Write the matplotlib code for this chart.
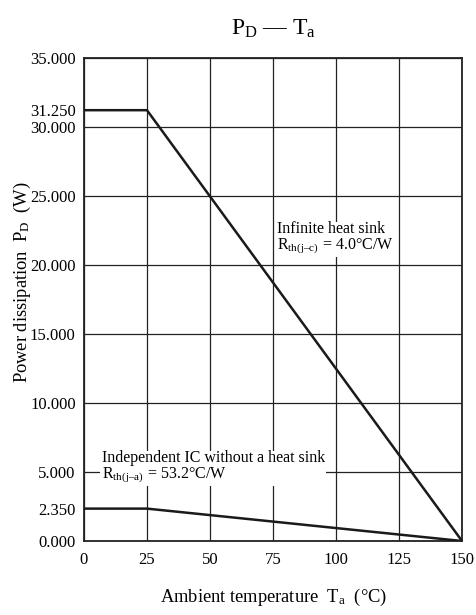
import matplotlib
matplotlib.use("Agg")
import matplotlib.pyplot as plt

plt.rcParams['font.family'] = ['Liberation Serif', 'DejaVu Serif']
plt.rcParams['mathtext.fontset'] = 'custom'
plt.rcParams['mathtext.rm'] = 'Liberation Serif'
plt.rcParams['mathtext.it'] = 'Liberation Serif:italic'

# Data
temp = [0, 25, 150]
pd_infinite = [31.25, 31.25, 0.0]
pd_noheatsink = [2.35, 2.35, 0.0]
x_ticks = [0, 25, 50, 75, 100, 125, 150]
y_ticks = [0.0, 2.35, 5.0, 10.0, 15.0, 20.0, 25.0, 30.0, 31.25, 35.0]
y_grid = [0, 5, 10, 15, 20, 25, 30, 35]

fig = plt.figure(figsize=(4.77, 6.15), dpi=100)
ax = fig.add_axes([0.176, 0.1203, 0.7926, 0.7846])

for g in y_grid:
    ax.axhline(g, color='#222222', lw=0.9, zorder=1)
for g in x_ticks:
    ax.axvline(g, color='#222222', lw=0.9, zorder=1)

ax.plot(temp, pd_infinite, color='#1a1a1a', lw=1.8, zorder=3)
ax.plot(temp, pd_noheatsink, color='#1a1a1a', lw=1.8, zorder=3)

ax.set_xlim(0, 150)
ax.set_ylim(0, 35)
ax.set_xticks(x_ticks)
ax.set_xticklabels([str(v) for v in x_ticks])
ax.set_yticks(y_ticks)
ax.set_yticklabels([f"{v:.3f}" for v in y_ticks])
ax.tick_params(length=0, labelsize=12, pad=6)
ax.tick_params(axis='x', pad=8)
for s in ax.spines.values():
    s.set_linewidth(1.3)
    s.set_color('#222222')

bbox = dict(facecolor='white', edgecolor='none', pad=1)
ax.text(76.5, 23.2, "Infinite heat sink\nR$_{\\rm th(j\u2013c)}$ = 4.0\u00b0C/W",
        fontsize=11.5, va='top', ha='left', bbox=bbox, zorder=4, linespacing=0.95)
ax.text(7.0, 6.6, "Independent IC without a heat sink\nR$_{\\rm th(j\u2013a)}$ = 53.2\u00b0C/W",
        fontsize=11.5, va='top', ha='left', bbox=bbox, zorder=4, linespacing=0.95)

fig.text(0.573, 0.953, "P$_{\\rm D}$ \u2014 T$_{\\rm a}$", fontsize=17, ha='center', va='center')
fig.text(0.573, 0.028, "Ambient temperature  T$_{\\rm a}$  (\u00b0C)", fontsize=13.3, ha='center', va='center')
fig.text(0.048, 0.5407, "Power dissipation  P$_{\\rm D}$  (W)", fontsize=13.3, ha='center', va='center', rotation=90)

fig.savefig("out.png", dpi=100)
